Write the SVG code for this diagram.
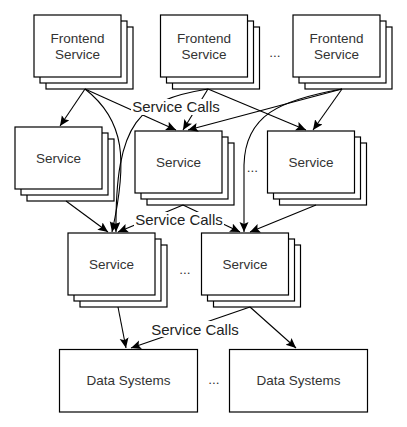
<svg xmlns="http://www.w3.org/2000/svg" width="407" height="427" viewBox="0 0 407 427">
<style>
.b{fill:#fff;stroke:#000;stroke-width:1.2}
.t{font-family:"Liberation Sans",Arial,sans-serif;font-size:13.5px;fill:#333;text-anchor:middle}
.l{font-family:"Liberation Sans",Arial,sans-serif;font-size:15px;fill:#222;text-anchor:middle}
.c{fill:none;stroke:#000;stroke-width:1.1;marker-end:url(#ah)}
.bg{fill:#fff}
</style>
<defs>
<marker id="ah" markerUnits="userSpaceOnUse" markerWidth="12" markerHeight="10" refX="10" refY="4.5" orient="auto">
<path d="M0,0 L10,4.5 L0,9 L2,4.5 z" fill="#000"/>
</marker>
<g id="stack">
<rect class="b" x="12" y="12" width="87" height="62"/>
<rect class="b" x="6" y="6" width="87" height="62"/>
<rect class="b" x="0" y="0" width="87" height="62"/>
</g>
</defs>
<rect width="407" height="427" fill="#fff"/>
<g id="fe1"><use href="#stack" x="34" y="15"/><text class="t" x="77.5" y="43">Frontend</text><text class="t" x="77.5" y="59">Service</text></g>
<g id="fe2"><use href="#stack" x="160.5" y="15"/><text class="t" x="204" y="43">Frontend</text><text class="t" x="204" y="59">Service</text></g>
<g id="fe3"><use href="#stack" x="293" y="15"/><text class="t" x="336.5" y="43">Frontend</text><text class="t" x="336.5" y="59">Service</text></g>
<g id="s1"><use href="#stack" x="15" y="127"/><text class="t" x="58.5" y="163">Service</text></g>
<g id="s2"><use href="#stack" x="135" y="131"/><text class="t" x="178.5" y="167">Service</text></g>
<g id="s3"><use href="#stack" x="267.5" y="131"/><text class="t" x="311" y="167">Service</text></g>
<g id="sa"><use href="#stack" x="68" y="233"/><text class="t" x="111.5" y="269">Service</text></g>
<g id="sb"><use href="#stack" x="201.5" y="233"/><text class="t" x="245" y="269">Service</text></g>
<g id="ds1"><rect class="b" x="59.5" y="349.5" width="138" height="62.5"/><text class="t" x="128.5" y="385">Data Systems</text></g>
<g id="ds2"><rect class="b" x="229.5" y="349.5" width="138" height="62.5"/><text class="t" x="298.5" y="385">Data Systems</text></g>
<g id="dots">
<text class="t" x="275" y="57">...</text>
<text class="t" x="252.5" y="172">...</text>
<text class="t" x="185" y="274">...</text>
<text class="t" x="214" y="384">...</text>
</g>
<g id="connectors">
<path class="c" d="M85,89 L60,126"/>
<path class="c" d="M85,89 L176,130"/>
<path class="c" d="M85,89 C125,120 128,160 112,232"/>
<path class="c" d="M208,89 C140,100 115,120 116,232"/>
<path class="c" d="M208,89 L183,130"/>
<path class="c" d="M208,89 L306,130"/>
<path class="c" d="M342,89 L188,130"/>
<path class="c" d="M342,89 C280,100 245,115 244,165 L244,232"/>
<path class="c" d="M342,89 L313,130"/>
<path class="c" d="M66,201 L108,232"/>
<path class="c" d="M183,205 L118,232"/>
<path class="c" d="M183,205 L240,232"/>
<path class="c" d="M316,205 L250,232"/>
<path class="c" d="M118,307 L126,348"/>
<path class="c" d="M250,307 L131,348"/>
<path class="c" d="M250,307 L296,348"/>
</g>
<g id="labels">
<rect class="bg" x="131" y="99" width="90" height="16"/>
<text class="l" x="176" y="112">Service Calls</text>
<rect class="bg" x="134" y="212" width="90" height="16"/>
<text class="l" x="179" y="225">Service Calls</text>
<rect class="bg" x="150" y="321" width="90" height="16"/>
<text class="l" x="195" y="335">Service Calls</text>
</g>
</svg>
